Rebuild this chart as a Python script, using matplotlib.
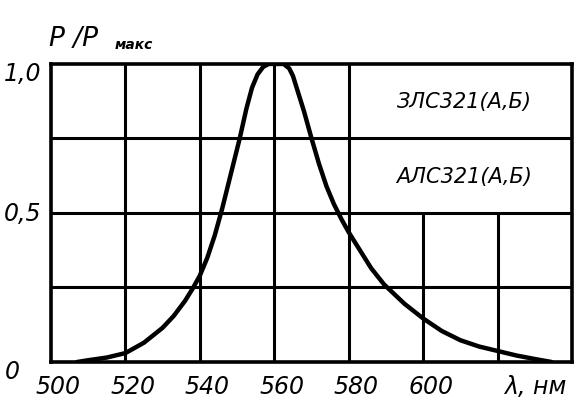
import numpy as np
import matplotlib.pyplot as plt

# spectral curve
wavelength = [507, 510, 515, 520, 525, 530, 533, 536, 538, 540, 542, 544, 546, 548, 550.7,
              552.5, 554, 555.5, 557, 558.5, 562.5, 564, 565, 566, 567, 568, 570, 572,
              574, 576, 578, 580, 583, 586, 589.5, 595, 600, 605, 610, 615, 620, 625,
              630, 634.5]
power = [0.0, 0.006, 0.015, 0.03, 0.065, 0.115, 0.155, 0.205, 0.245, 0.29, 0.35, 0.425,
         0.515, 0.615, 0.75, 0.85, 0.92, 0.965, 0.99, 1.0, 1.0, 0.985, 0.96, 0.92, 0.88,
         0.84, 0.75, 0.665, 0.59, 0.53, 0.48, 0.435, 0.375, 0.315, 0.26, 0.195, 0.146,
         0.104, 0.073, 0.052, 0.037, 0.022, 0.01, 0.0]

x_ticks = [500, 520, 540, 560, 580, 600]
y_labels = ["0", "0,5", "1,0"]
types = ["ЗЛС321(А,Б)", "АЛС321(А,Б)"]

font = dict(family="DejaVu Sans", fontstyle="italic", color="black")

fig = plt.figure(figsize=(5.82, 4.10), dpi=100)
ax = fig.add_axes([0.0876, 0.1146, 0.8954, 0.727])
ax.set_xlim(500, 640)
ax.set_ylim(0, 1.0)

lw_grid = 2.2
# vertical grid, the two right lines stop under the type labels
for v in [520, 540, 560, 580]:
    ax.vlines(v, 0, 1, color="black", lw=lw_grid)
for v in [600, 620]:
    ax.vlines(v, 0, 0.5, color="black", lw=lw_grid)
for h in [0.25, 0.5, 0.75]:
    ax.hlines(h, 500, 640, color="black", lw=lw_grid)

for s in ax.spines.values():
    s.set_linewidth(2.6)

ax.plot(wavelength, power, color="black", lw=3.2, solid_capstyle="round",
        solid_joinstyle="round", zorder=5)

ax.set_xticks([])
ax.set_yticks([])

for t in x_ticks:
    ax.text(t + 2, -0.04, str(t), ha="center", va="top", fontsize=17, **font)
ax.text(630, -0.04, "λ, нм", ha="center", va="top", fontsize=17, **font)

ax.text(-0.075, -0.03, y_labels[0], transform=ax.transAxes, ha="center",
        va="center", fontsize=17, **font)
ax.text(-0.055, 0.5, y_labels[1], transform=ax.transAxes, ha="center",
        va="center", fontsize=17, **font)
ax.text(-0.055, 0.97, y_labels[2], transform=ax.transAxes, ha="center",
        va="center", fontsize=17, **font)

ax.text(611, 0.875, types[0], ha="center", va="center", fontsize=15, **font)
ax.text(611, 0.625, types[1], ha="center", va="center", fontsize=15, **font)

fig.text(0.085, 0.905, "P /P", ha="left", va="center", fontsize=19, **font)
fig.text(0.197, 0.89, "макс", ha="left", va="center", fontsize=10,
         fontweight="bold", **font)

fig.savefig("out.png", dpi=100)
